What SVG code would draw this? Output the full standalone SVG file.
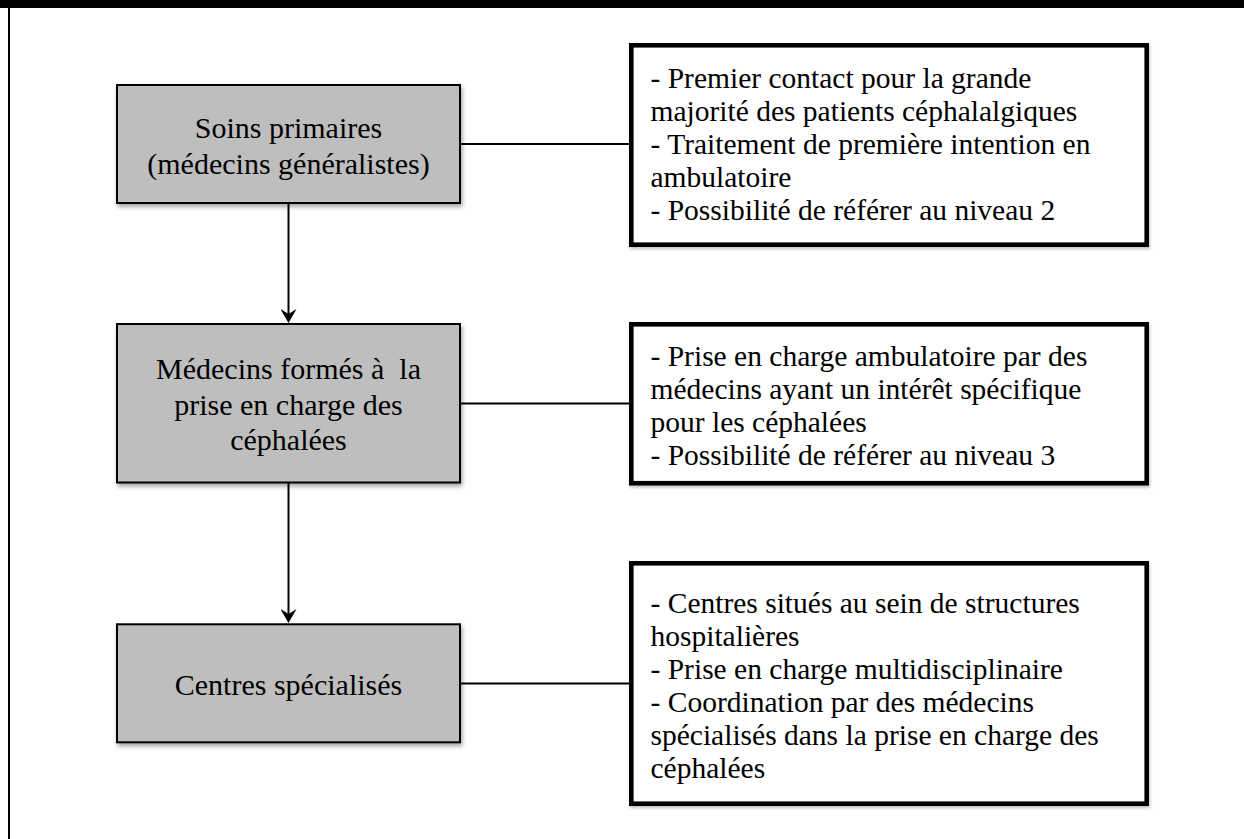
<svg xmlns="http://www.w3.org/2000/svg" width="1244" height="839" viewBox="0 0 1244 839">
<style>
.lbox{fill:#bebebe;stroke:#000;stroke-width:2;filter:url(#sh)}
.rbox{fill:#fff;stroke:#000;stroke-width:4.6;filter:url(#sh2)}
.lt{font-family:"Liberation Serif","Times New Roman",serif;font-size:30px;fill:#000;text-anchor:middle}
.rt{font-family:"Liberation Serif","Times New Roman",serif;font-size:29.5px;fill:#000}
.con{stroke:#000;stroke-width:2;fill:none}
</style>
<defs>
<filter id="sh" x="-10%" y="-10%" width="125%" height="130%">
<feDropShadow dx="1.5" dy="3" stdDeviation="2" flood-color="#000" flood-opacity="0.35"/>
</filter>
<filter id="sh2" x="-10%" y="-10%" width="125%" height="130%">
<feDropShadow dx="1" dy="2" stdDeviation="1.5" flood-color="#000" flood-opacity="0.25"/>
</filter>
<marker id="arr" markerUnits="userSpaceOnUse" viewBox="0 0 14 16" refX="5" refY="8" markerWidth="14" markerHeight="16" orient="auto">
<path d="M0,0 L14,8 L0,16 L5,8 Z" fill="#000"/>
</marker>
</defs>
<rect x="0" y="0" width="1244" height="839" fill="#fff"/>
<g id="frame">
<rect x="0" y="0" width="1244" height="8" fill="#000"/>
<rect x="8" y="0" width="2" height="839" fill="#000"/>
</g>
<g id="connectors">
<line class="con" x1="288.5" y1="204" x2="288.5" y2="314" marker-end="url(#arr)"/>
<line class="con" x1="288.5" y1="483" x2="288.5" y2="614" marker-end="url(#arr)"/>
<line class="con" x1="460" y1="144" x2="631" y2="144"/>
<line class="con" x1="460" y1="403.5" x2="631" y2="403.5"/>
<line class="con" x1="460" y1="683.5" x2="631" y2="683.5"/>
</g>
<g id="n1">
<rect class="lbox" x="117" y="85" width="343" height="118"/>
<text class="lt" x="288.5" y="138.3">Soins primaires</text>
<text class="lt" x="288.5" y="174">(médecins généralistes)</text>
</g>
<g id="n2">
<rect class="lbox" x="117" y="324" width="343" height="158.5"/>
<text class="lt" x="288.5" y="379" xml:space="preserve">Médecins formés à  la</text>
<text class="lt" x="288.5" y="414.5">prise en charge des</text>
<text class="lt" x="288.5" y="450">céphalées</text>
</g>
<g id="n3">
<rect class="lbox" x="117" y="624.3" width="343" height="118"/>
<text class="lt" x="288.5" y="695">Centres spécialisés</text>
</g>
<g id="d1">
<rect class="rbox" x="631.3" y="45.3" width="515.4" height="199.4"/>
<text class="rt" x="650.5" y="87.5">- Premier contact pour la grande</text>
<text class="rt" x="650.5" y="120.5">majorité des patients céphalalgiques</text>
<text class="rt" x="650.5" y="153.5">- Traitement de première intention en</text>
<text class="rt" x="650.5" y="186.5">ambulatoire</text>
<text class="rt" x="650.5" y="219.5">- Possibilité de référer au niveau 2</text>
</g>
<g id="d2">
<rect class="rbox" x="631.3" y="324.3" width="515.4" height="158.9"/>
<text class="rt" x="650.5" y="365.5">- Prise en charge ambulatoire par des</text>
<text class="rt" x="650.5" y="398.8">médecins ayant un intérêt spécifique</text>
<text class="rt" x="650.5" y="432.1">pour les céphalées</text>
<text class="rt" x="650.5" y="465.4">- Possibilité de référer au niveau 3</text>
</g>
<g id="d3">
<rect class="rbox" x="631.3" y="563.3" width="515.4" height="240.4"/>
<text class="rt" x="650.5" y="612.5">- Centres situés au sein de structures</text>
<text class="rt" x="650.5" y="645.6">hospitalières</text>
<text class="rt" x="650.5" y="678.7">- Prise en charge multidisciplinaire</text>
<text class="rt" x="650.5" y="711.8">- Coordination par des médecins</text>
<text class="rt" x="650.5" y="744.9">spécialisés dans la prise en charge des</text>
<text class="rt" x="650.5" y="778">céphalées</text>
</g>
</svg>
